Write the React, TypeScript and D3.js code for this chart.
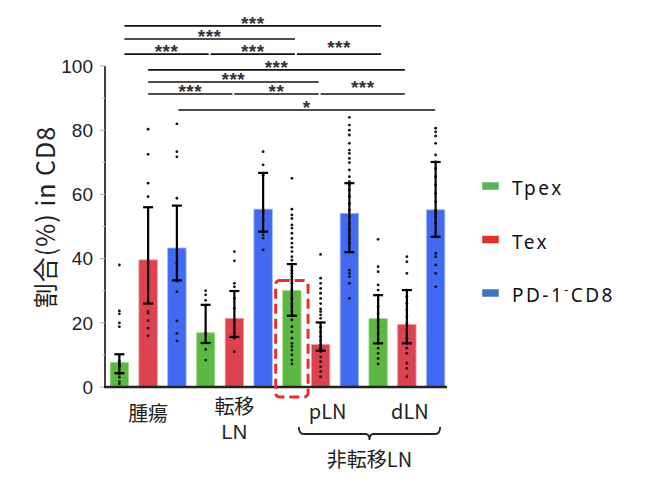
import React from 'react';
import * as d3 from 'd3';

const W = 649;
const H = 482;

// tissue groups, left to right
const tissues = ['腫瘍', '転移LN', 'pLN', 'dLN'];
const cellTypes = ['Tpex', 'Tex', 'PD-1-CD8'];

// bar heights (mean %) and error bar ends per tissue
const tpexMean = [7.7, 16.9, 30.1, 21.3];
const tpexHigh = [10.2, 25.6, 38.3, 28.6];
const tpexLow = [4.3, 13.7, 22.2, 13.6];

const texMean = [39.6, 21.4, 13.2, 19.5];
const texHigh = [56, 29.9, 20.1, 30.2];
const texLow = [26, 15.6, 11.3, 13.6];

const pdMean = [43.3, 55.4, 54.1, 55.2];
const pdHigh = [56.5, 66.7, 63.5, 70.1];
const pdLow = [33.2, 48.4, 42, 46.8];

// individual samples
const tpexPoints = [
  [38, 23.7, 22.8, 20, 18.8, 10, 8, 7, 6.5, 4, 3, 1.7, 1],
  [30, 28.7, 27, 25.5, 16.8, 13.8, 11.7, 8.4],
  [65, 55.4, 53.6, 52.5, 50.5, 49.5, 47.9, 46.3, 44.8, 43.5, 42.2, 40.6, 39.5, 38.3, 37.5, 36.4, 35.4, 34.4,
    33.3, 32.3, 30.2, 28.7, 27.6, 26, 25, 23.5, 22.2, 20.9, 18.8, 17.2, 15.2, 13.6, 12.6, 11.5, 10, 8.4, 7.2],
  [46, 37.5, 35.9, 31.8, 30.2, 28.6, 27.1, 25, 22.9, 20.9, 18.8, 16.7, 15, 13.6, 12.1, 10.5, 8.9, 7.2],
];
const texPoints = [
  [80.3, 72.5, 63.5, 59.3, 23.5, 23, 20.7, 18.3, 16],
  [42.2, 39.3, 32.3, 31.2, 27.6, 24.5, 20.9, 17, 15.2, 11],
  [41.3, 33.9, 32.3, 30.7, 29.2, 27.6, 26, 24.3, 23.5, 22.5, 21.4, 20, 18.6, 17.2, 15.7, 14.4, 13.1, 12.1,
    11, 9.4, 7.9, 6.3, 4.8, 3.2],
  [40.6, 39, 35.4, 30.2, 28.1, 26, 24, 21.9, 19.8, 17.8, 15.2, 13.6, 12.1, 10.5, 7.4, 5.8, 3.2],
];
const pdPoints = [
  [82, 73.3, 71.7, 58.8, 38.5, 33, 29.7, 20.6, 16.7, 14.4],
  [73.3, 69.2, 66, 55.1, 54.2, 52, 48.4, 47.4, 46.4, 42.7],
  [84, 81.6, 80, 78.5, 75.9, 73.8, 72.8, 71.2, 69.9, 67.6, 65.5, 64, 62.9, 61.4, 59.3, 57.2, 55.1, 53, 51,
    48.9, 46.3, 44.8, 36.4, 35.4, 34.4, 32.3, 27.6],
  [80.6, 79.5, 78.2, 75.9, 72.3, 70.1, 68.1, 65.5, 62.9, 60.3, 57.7, 55.1, 54, 53, 51, 46.8, 41.7, 40.6, 38,
    35.4, 31.2],
];

// significance brackets: cell type, from tissue, to tissue, label, height (%)
const brackets = [
  { type: 0, from: 0, to: 3, label: '***', at: 112.5, lift: 0 },
  { type: 0, from: 0, to: 2, label: '***', at: 108.4, lift: 0 },
  { type: 0, from: 0, to: 1, label: '***', at: 103.7, lift: 0 },
  { type: 0, from: 1, to: 2, label: '***', at: 103.7, lift: 0 },
  { type: 0, from: 2, to: 3, label: '***', at: 103.7, lift: 4 },
  { type: 1, from: 0, to: 3, label: '***', at: 98.8, lift: 0 },
  { type: 1, from: 0, to: 2, label: '***', at: 95.0, lift: 0 },
  { type: 1, from: 0, to: 1, label: '***', at: 91.3, lift: 0 },
  { type: 1, from: 1, to: 2, label: '**', at: 91.3, lift: 0 },
  { type: 1, from: 2, to: 3, label: '***', at: 91.3, lift: 4 },
  { type: 2, from: 0, to: 3, label: '*', at: 86.3, lift: 0 },
];

const yTicks = [0, 20, 40, 60, 80, 100];

const barColors = ['#5db843', '#dc4250', '#4169f2'];
const barEdges = ['#a6dc92', '#ee9aa1', '#a3b8fa'];
const legendColors = ['#58b45a', '#e0302a', '#3f73c4'];
const bracketNudge = [4, -1, 0.5];

const means = [tpexMean, texMean, pdMean];
const highs = [tpexHigh, texHigh, pdHigh];
const lows = [tpexLow, texLow, pdLow];
const points = [tpexPoints, texPoints, pdPoints];

const bars = tissues.flatMap((t, ti) =>
  cellTypes.map((c, ci) => ({
    key: `${ti}-${ci}`,
    ti,
    ci,
    mean: means[ci][ti],
    high: highs[ci][ti],
    low: lows[ci][ti],
    pts: points[ci][ti],
  }))
);

const latin = '"Liberation Sans", Arial, sans-serif';
const cjk = '"Noto Sans CJK JP", "Noto Sans", sans-serif';

const App: React.FC = () => {
  const x = d3.scaleBand<string>()
    .domain(bars.map(b => b.key))
    .range([105, 450])
    .paddingInner(0.36)
    .paddingOuter(0.18);
  const y = d3.scaleLinear().domain([0, 100]).range([387, 66]);
  const bw = x.bandwidth();
  const cx = (ti: number, ci: number) => x(`${ti}-${ci}`)! + bw / 2;
  const minorTicks = d3.range(10, 100, 20);

  const hl = bars.find(b => b.ti === 2 && b.ci === 0)!;
  const hlX = x(hl.key)!;

  const braceL = cx(2, 0) + 7;
  const braceR = cx(3, 2) + 4.5;
  const braceM = (braceL + braceR) / 2;
  const braceTop = 427;
  const braceY = 434;
  const brace = `M${braceL},${braceTop} Q${braceL},${braceY} ${braceL + 5},${braceY} L${braceM - 4},${braceY} ` +
    `Q${braceM},${braceY} ${braceM},${braceY + 6} Q${braceM},${braceY} ${braceM + 4},${braceY} ` +
    `L${braceR - 5},${braceY} Q${braceR},${braceY} ${braceR},${braceTop}`;

  return (
    <svg width={W} height={H} style={{ position: 'absolute', left: 0, top: 0, background: '#fff' }}>
      {/* y axis */}
      <line x1={105} x2={105} y1={y(100)} y2={y(0)} stroke="#111" strokeWidth={1.6} />
      {yTicks.map(t => (
        <g key={t}>
          <line x1={100} x2={105} y1={y(t)} y2={y(t)} stroke="#aaa" strokeWidth={1} />
          <text x={93} y={y(t)} dy="0.36em" textAnchor="end" fontFamily={latin} fontSize={19} fill="#222">{t}</text>
        </g>
      ))}
      {minorTicks.map(t => (
        <line key={t} x1={102} x2={105} y1={y(t)} y2={y(t)} stroke="#ccc" strokeWidth={1} />
      ))}
      <text
        transform={`translate(44, 217) rotate(-90)`}
        textAnchor="middle"
        dominantBaseline="central"
        fontFamily={cjk}
        fontSize={25}
        letterSpacing={1}
        fill="#222"
      >
        割合(%) in CD8
      </text>

      {/* bars */}
      {bars.map(b => (
        <rect
          key={b.key}
          x={x(b.key)}
          width={bw}
          y={y(b.mean)}
          height={y(0) - y(b.mean)}
          fill={barColors[b.ci]}
          stroke={barEdges[b.ci]}
          strokeWidth={0.8}
        />
      ))}

      {/* sample dots */}
      {bars.map(b => (
        <g key={`p${b.key}`}>
          {b.pts.map((v, i) => (
            <circle key={i} cx={cx(b.ti, b.ci)} cy={y(v)} r={1.4} fill="#111" />
          ))}
        </g>
      ))}

      {/* error bars */}
      {bars.map(b => {
        const c = cx(b.ti, b.ci);
        return (
          <g key={`e${b.key}`} stroke="#000" strokeWidth={2.2}>
            <line x1={c} x2={c} y1={y(b.high)} y2={y(b.low)} />
            <line x1={c - 5} x2={c + 5} y1={y(b.high)} y2={y(b.high)} />
            <line x1={c - 5} x2={c + 5} y1={y(b.low)} y2={y(b.low)} />
          </g>
        );
      })}

      {/* baseline */}
      <line x1={104} x2={447} y1={y(0)} y2={y(0)} stroke="#222" strokeWidth={2.6} />

      {/* highlight box */}
      <rect
        x={hlX - 7}
        width={bw + 14}
        y={y(hl.mean) - 10}
        height={y(0) - y(hl.mean) + 20}
        rx={4}
        fill="none"
        stroke="#e8302a"
        strokeWidth={3}
        strokeDasharray="10 5"
      />

      {/* significance */}
      {brackets.map((s, i) => {
        const n = bracketNudge[s.type];
        const x1 = cx(s.from, s.type) + n + 1;
        const x2 = cx(s.to, s.type) + n - 1;
        const ly = y(s.at);
        return (
          <g key={`s${i}`}>
            <line x1={x1} x2={x2} y1={ly} y2={ly} stroke="#111" strokeWidth={1.6} />
            <text
              x={(x1 + x2) / 2}
              y={ly + 4 - s.lift}
              textAnchor="middle"
              fontFamily={latin}
              fontWeight="bold"
              fontSize={19}
              letterSpacing={0.5}
              fill="#333"
            >
              {s.label}
            </text>
          </g>
        );
      })}

      {/* x labels */}
      <g fontFamily={cjk} fontSize={20} fill="#222" textAnchor="middle">
        <text x={cx(0, 1)} y={421}>{tissues[0]}</text>
        <text x={cx(1, 1)} y={414}>転移</text>
        <text x={cx(1, 1)} y={438.5} fontFamily={latin}>LN</text>
        <text x={cx(2, 1) + 7} y={419}>{tissues[2]}</text>
        <text x={cx(3, 1) + 3} y={419}>{tissues[3]}</text>
        <text x={braceM} y={467}>非転移LN</text>
      </g>
      <path d={brace} fill="none" stroke="#222" strokeWidth={1.8} />

      {/* legend */}
      {cellTypes.map((c, i) => {
        const ly = 186 + i * 53.5;
        return (
          <g key={c}>
            <rect x={482} y={ly - 4} width={17} height={8} fill={legendColors[i]} stroke="#fff" strokeWidth={0.5} />
            <text x={512} y={ly + 9} fontFamily={'"Noto Sans", sans-serif'} fontSize={19} letterSpacing={2.5} fill="#111">
              {i < 2 ? c : (
                <>
                  PD-1
                  <tspan dy={-8} fontSize={12}>-</tspan>
                  <tspan dy={8}>CD8</tspan>
                </>
              )}
            </text>
          </g>
        );
      })}
    </svg>
  );
};

export default App;
